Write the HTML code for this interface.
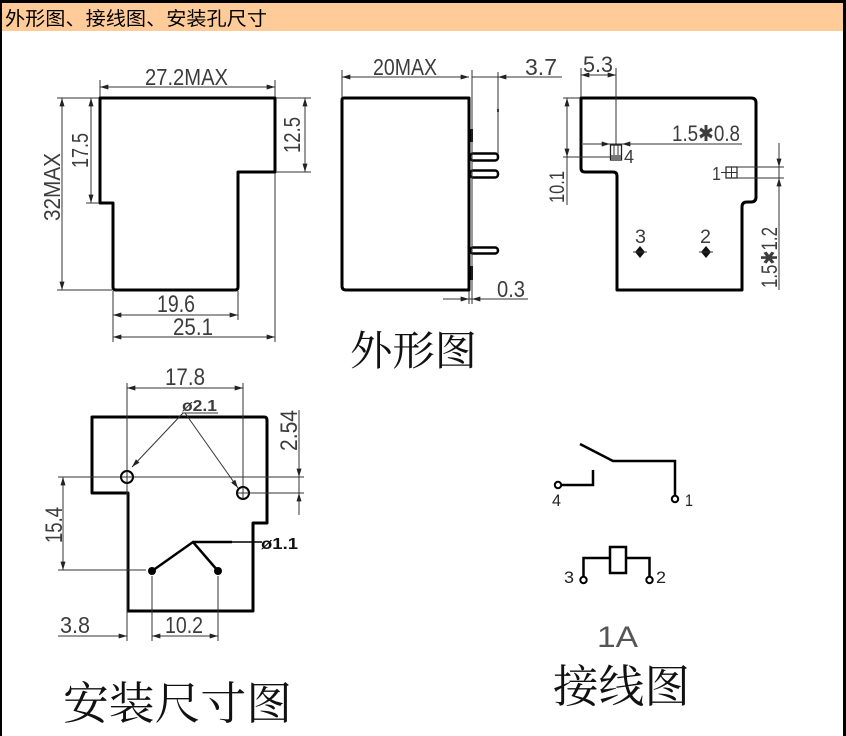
<!DOCTYPE html>
<html><head><meta charset="utf-8"><style>
html,body{margin:0;padding:0;background:#fff;}
svg{display:block;}
.t{stroke:#333;stroke-width:1;fill:none;}
.k{stroke:#000;stroke-width:3;fill:none;stroke-linejoin:round;}
.d{font-family:"Liberation Sans",sans-serif;fill:#3c3c3c;}
.cj{font-family:"Liberation Serif","Noto Serif CJK SC",serif;fill:#111;}
</style></head><body>
<svg width="846" height="736" viewBox="0 0 846 736" xmlns="http://www.w3.org/2000/svg">
<defs>
<marker id="a" viewBox="0 0 10 6" refX="10" refY="3" markerWidth="9" markerHeight="5" markerUnits="userSpaceOnUse" orient="auto-start-reverse">
<path d="M0,0 L10,3 L0,6 z" fill="#222"/>
</marker>
</defs>
<rect x="0" y="0" width="846" height="736" fill="#fff"/>
<!-- header -->
<rect x="2" y="3" width="841" height="28" fill="#FFCC99"/>
<rect x="0" y="0" width="846" height="3" fill="#000"/>
<rect x="0" y="0" width="2" height="736" fill="#000"/>
<rect x="843" y="0" width="3" height="736" fill="#000"/>
<text x="5" y="25" font-size="19" textLength="262" lengthAdjust="spacingAndGlyphs" style='font-family:"Liberation Sans","Noto Sans CJK SC",sans-serif;fill:#000'>外形图、接线图、安装孔尺寸</text>

<!-- ================= FRONT VIEW ================= -->
<path class="k" d="M100,98 H275 V172 H238 V287 Q238,290 235,290 H116 Q113,290 113,287 V203 H100 Z"/>
<!-- 27.2MAX -->
<line class="t" x1="100" y1="80" x2="100" y2="97"/>
<line class="t" x1="275" y1="80" x2="275" y2="97"/>
<line class="t" x1="100" y1="87" x2="275" y2="87" marker-start="url(#a)" marker-end="url(#a)"/>
<text class="d" x="145" y="85" font-size="23" textLength="83" lengthAdjust="spacingAndGlyphs">27.2MAX</text>
<!-- 32MAX -->
<line class="t" x1="57" y1="98" x2="99" y2="98"/>
<line class="t" x1="57" y1="290" x2="112" y2="290"/>
<line class="t" x1="62" y1="98" x2="62" y2="290" marker-start="url(#a)" marker-end="url(#a)"/>
<text class="d" transform="translate(60,221) rotate(-90)" font-size="23" textLength="68" lengthAdjust="spacingAndGlyphs">32MAX</text>
<!-- 17.5 -->
<line class="t" x1="86" y1="203" x2="99" y2="203"/>
<line class="t" x1="91" y1="98" x2="91" y2="203" marker-start="url(#a)" marker-end="url(#a)"/>
<text class="d" transform="translate(88,168) rotate(-90)" font-size="23" textLength="35" lengthAdjust="spacingAndGlyphs">17.5</text>
<!-- 12.5 -->
<line class="t" x1="276" y1="98" x2="311" y2="98"/>
<line class="t" x1="276" y1="172" x2="311" y2="172"/>
<line class="t" x1="305" y1="98" x2="305" y2="172" marker-start="url(#a)" marker-end="url(#a)"/>
<text class="d" transform="translate(300,153) rotate(-90)" font-size="23" textLength="36" lengthAdjust="spacingAndGlyphs">12.5</text>
<!-- 19.6 / 25.1 -->
<line class="t" x1="275" y1="173" x2="275" y2="342"/>
<line class="t" x1="113" y1="291" x2="113" y2="342"/>
<line class="t" x1="238" y1="291" x2="238" y2="320"/>
<line class="t" x1="113" y1="315" x2="238" y2="315" marker-start="url(#a)" marker-end="url(#a)"/>
<line class="t" x1="113" y1="337" x2="275" y2="337" marker-start="url(#a)" marker-end="url(#a)"/>
<text class="d" x="157" y="312" font-size="24" textLength="38" lengthAdjust="spacingAndGlyphs">19.6</text>
<text class="d" x="173" y="335" font-size="24" textLength="40" lengthAdjust="spacingAndGlyphs">25.1</text>

<!-- ================= SIDE VIEW ================= -->
<path class="k" d="M344,98 H469 V290 H346 Q342,290 342,286 V100 Q342,98 344,98 Z"/>
<rect x="469" y="129" width="4" height="13" fill="#000"/>
<rect x="469" y="266" width="4" height="14" fill="#000"/>
<rect x="470" y="153.5" width="28" height="7" rx="3" fill="#fff" stroke="#000" stroke-width="2.5"/>
<rect x="470" y="170.5" width="28" height="7" rx="3" fill="#fff" stroke="#000" stroke-width="2.5"/>
<rect x="470" y="247.5" width="28" height="6" rx="3" fill="#fff" stroke="#000" stroke-width="2.5"/>
<line class="t" x1="472" y1="70" x2="472" y2="304"/>
<line class="t" x1="342" y1="70" x2="342" y2="97"/>
<line class="t" x1="342" y1="77" x2="469" y2="77" marker-start="url(#a)" marker-end="url(#a)"/>
<text class="d" x="373" y="75" font-size="23" textLength="64" lengthAdjust="spacingAndGlyphs">20MAX</text>
<!-- 3.7 -->
<line class="t" x1="472" y1="77" x2="562" y2="77"/>
<line class="t" x1="512" y1="77" x2="498" y2="77" marker-end="url(#a)"/>
<line class="t" x1="498" y1="72" x2="498" y2="154"/>
<rect x="497" y="109" width="2" height="3" fill="#333"/>
<text class="d" x="525" y="75" font-size="23" textLength="32" lengthAdjust="spacingAndGlyphs">3.7</text>
<!-- 0.3 -->
<line class="t" x1="469" y1="291" x2="469" y2="304"/>
<line class="t" x1="443" y1="299" x2="528" y2="299"/>
<line class="t" x1="455" y1="299" x2="469" y2="299" marker-end="url(#a)"/>
<line class="t" x1="486" y1="299" x2="472" y2="299" marker-end="url(#a)"/>
<text class="d" x="497" y="297" font-size="23" textLength="28" lengthAdjust="spacingAndGlyphs">0.3</text>

<!-- ================= RIGHT VIEW ================= -->
<path class="k" d="M581,98 H751 Q756,98 756,103 V197 Q756,202 751,202 H747 Q742,202 742,207 V290 H617 V176 Q617,172 613,172 H585 Q581,172 581,168 Z"/>
<!-- 5.3 -->
<line class="t" x1="581" y1="68" x2="581" y2="97"/>
<line class="t" x1="616" y1="68" x2="616" y2="145"/>
<line class="t" x1="581" y1="75" x2="616" y2="75" marker-start="url(#a)" marker-end="url(#a)"/>
<text class="d" x="583" y="72" font-size="22" textLength="30" lengthAdjust="spacingAndGlyphs">5.3</text>
<!-- 10.1 -->
<line class="t" x1="563" y1="98" x2="580" y2="98"/>
<line class="t" x1="563" y1="157" x2="610" y2="157"/>
<line class="t" x1="567" y1="98" x2="567" y2="157" marker-start="url(#a)" marker-end="url(#a)"/>
<line class="t" x1="567" y1="157" x2="567" y2="205"/>
<text class="d" transform="translate(564,203) rotate(-90)" font-size="21" textLength="32" lengthAdjust="spacingAndGlyphs">10.1</text>
<!-- 1.5x0.8 -->
<line class="t" x1="583" y1="144" x2="742" y2="144"/>
<line class="t" x1="596" y1="144" x2="610" y2="144" marker-end="url(#a)"/>
<line class="t" x1="636" y1="144" x2="622" y2="144" marker-end="url(#a)"/>
<text class="d" x="672" y="141" font-size="22" textLength="68" lengthAdjust="spacingAndGlyphs">1.5✱0.8</text>
<!-- pin 4 -->
<rect x="610.5" y="145" width="11" height="15" fill="#fff" stroke="#222" stroke-width="1.3"/>
<line class="t" x1="614" y1="145" x2="614" y2="160"/>
<line class="t" x1="618" y1="145" x2="618" y2="160"/>
<rect x="611" y="155" width="10" height="5" fill="#777"/>
<text class="d" x="624" y="163" font-size="18" textLength="10" lengthAdjust="spacingAndGlyphs">4</text>
<!-- pin 1 -->
<text class="d" x="712" y="180" font-size="18" textLength="9" lengthAdjust="spacingAndGlyphs">1</text>
<line class="t" x1="721" y1="172.5" x2="726" y2="172.5"/>
<rect x="726" y="167" width="11" height="11" fill="#fff" stroke="#222" stroke-width="1.2"/>
<line class="t" x1="731.5" y1="167" x2="731.5" y2="178"/>
<line class="t" x1="726" y1="172.5" x2="737" y2="172.5"/>
<line class="t" x1="737" y1="167" x2="784" y2="167"/>
<line class="t" x1="737" y1="178" x2="784" y2="178"/>
<line class="t" x1="779" y1="143" x2="779" y2="290"/>
<line class="t" x1="779" y1="152" x2="779" y2="167" marker-end="url(#a)"/>
<line class="t" x1="779" y1="193" x2="779" y2="178" marker-end="url(#a)"/>
<text class="d" transform="translate(777,288) rotate(-90)" font-size="22" textLength="61" lengthAdjust="spacingAndGlyphs">1.5✱1.2</text>
<!-- pins 3,2 -->
<polygon points="640,246 645,252 640,258 635,252" fill="#111"/>
<line class="t" x1="633" y1="252" x2="647" y2="252"/>
<polygon points="706,246 711,252 706,258 701,252" fill="#111"/>
<line class="t" x1="699" y1="252" x2="713" y2="252"/>
<text class="d" x="635" y="243" font-size="19" textLength="11" lengthAdjust="spacingAndGlyphs">3</text>
<text class="d" x="700" y="243" font-size="19" textLength="11" lengthAdjust="spacingAndGlyphs">2</text>

<text class="cj" x="350" y="365" font-size="41" textLength="127" lengthAdjust="spacingAndGlyphs">外形图</text>

<!-- ================= MOUNTING VIEW ================= -->
<path class="k" d="M92,417 H264 Q267,417 267,420 V523 H253 V611 H128 V493 H92 Z"/>
<!-- 17.8 -->
<line class="t" x1="127" y1="383" x2="127" y2="641"/>
<line class="t" x1="243" y1="383" x2="243" y2="500"/>
<line class="t" x1="127" y1="388" x2="243" y2="388" marker-start="url(#a)" marker-end="url(#a)"/>
<text class="d" x="165" y="385" font-size="24" textLength="40" lengthAdjust="spacingAndGlyphs">17.8</text>
<!-- holes -->
<circle cx="127" cy="477" r="6" fill="#fff" stroke="#000" stroke-width="2"/>
<line class="t" x1="121" y1="477" x2="133" y2="477"/>
<line class="t" x1="127" y1="471" x2="127" y2="483"/>
<circle cx="243" cy="493" r="6" fill="#fff" stroke="#000" stroke-width="2"/>
<line class="t" x1="237" y1="493" x2="249" y2="493"/>
<line class="t" x1="243" y1="487" x2="243" y2="499"/>
<!-- ø2.1 -->
<text class="d" x="182" y="411" font-size="16" textLength="35" lengthAdjust="spacingAndGlyphs" style="font-weight:bold">ø2.1</text>
<line class="t" x1="182" y1="413" x2="218" y2="413"/>
<line class="t" x1="183" y1="413" x2="132" y2="467" marker-end="url(#a)"/>
<line class="t" x1="185" y1="413" x2="238" y2="488" marker-end="url(#a)"/>
<!-- 2.54 -->
<line class="t" x1="134" y1="477" x2="304" y2="477"/>
<line class="t" x1="250" y1="493" x2="304" y2="493"/>
<line class="t" x1="299" y1="410" x2="299" y2="515"/>
<line class="t" x1="299" y1="462" x2="299" y2="477" marker-end="url(#a)"/>
<line class="t" x1="299" y1="508" x2="299" y2="493" marker-end="url(#a)"/>
<text class="d" transform="translate(297,451) rotate(-90)" font-size="24" textLength="41" lengthAdjust="spacingAndGlyphs">2.54</text>
<!-- 15.4 -->
<line class="t" x1="58" y1="477" x2="120" y2="477"/>
<line class="t" x1="58" y1="570" x2="146" y2="570"/>
<line class="t" x1="63" y1="477" x2="63" y2="570" marker-start="url(#a)" marker-end="url(#a)"/>
<text class="d" transform="translate(62,543) rotate(-90)" font-size="24" textLength="36" lengthAdjust="spacingAndGlyphs">15.4</text>
<!-- pins -->
<path d="M152,571 L193,542 L218,571" stroke="#000" stroke-width="2.5" fill="none"/>
<line x1="193" y1="542" x2="232" y2="542" stroke="#000" stroke-width="2.5"/>
<line x1="232" y1="542" x2="262" y2="542" stroke="#000" stroke-width="1.5"/>
<circle cx="152" cy="571" r="4" fill="#000"/>
<circle cx="218" cy="571" r="4" fill="#000"/>
<text class="d" x="261" y="549" font-size="16" textLength="37" lengthAdjust="spacingAndGlyphs" style="font-weight:bold;fill:#111">ø1.1</text>
<!-- 10.2 / 3.8 -->
<line class="t" x1="152" y1="576" x2="152" y2="641"/>
<line class="t" x1="218" y1="576" x2="218" y2="641"/>
<line class="t" x1="152" y1="636" x2="218" y2="636" marker-start="url(#a)" marker-end="url(#a)"/>
<line class="t" x1="58" y1="636" x2="127" y2="636" marker-end="url(#a)"/>
<text class="d" x="165" y="633" font-size="23" textLength="38" lengthAdjust="spacingAndGlyphs">10.2</text>
<text class="d" x="60" y="633" font-size="23" textLength="30" lengthAdjust="spacingAndGlyphs">3.8</text>

<text class="cj" x="63" y="719" font-size="45" textLength="229" lengthAdjust="spacingAndGlyphs">安装尺寸图</text>

<!-- ================= WIRING ================= -->
<path d="M580,444 L613,461 H675 V496" stroke="#000" stroke-width="2.5" fill="none"/>
<circle cx="675" cy="499" r="3.2" fill="#fff" stroke="#000" stroke-width="2"/>
<path d="M593,470 V485 H561" stroke="#000" stroke-width="2.5" fill="none"/>
<circle cx="558" cy="485" r="3.2" fill="#fff" stroke="#000" stroke-width="2"/>
<text class="d" x="552" y="506" font-size="17" textLength="9" lengthAdjust="spacingAndGlyphs" style="fill:#222">4</text>
<text class="d" x="685" y="506" font-size="17" textLength="8" lengthAdjust="spacingAndGlyphs" style="fill:#222">1</text>
<rect x="610" y="547" width="16" height="26" fill="#fff" stroke="#000" stroke-width="2.5"/>
<path d="M610,558 H583.5 V577" stroke="#000" stroke-width="2.5" fill="none"/>
<path d="M626,558 H649.5 V577" stroke="#000" stroke-width="2.5" fill="none"/>
<circle cx="583.5" cy="580" r="3.2" fill="#fff" stroke="#000" stroke-width="2"/>
<circle cx="649.5" cy="580" r="3.2" fill="#fff" stroke="#000" stroke-width="2"/>
<text class="d" x="564" y="583" font-size="17" textLength="10" lengthAdjust="spacingAndGlyphs" style="fill:#222">3</text>
<text class="d" x="656" y="583" font-size="17" textLength="10" lengthAdjust="spacingAndGlyphs" style="fill:#222">2</text>
<text x="597" y="647" font-size="30" textLength="41" lengthAdjust="spacingAndGlyphs" style='font-family:"Liberation Sans",sans-serif;fill:#555'>1A</text>

<text class="cj" x="553" y="702" font-size="45" textLength="137" lengthAdjust="spacingAndGlyphs">接线图</text>
</svg>
</body></html>
